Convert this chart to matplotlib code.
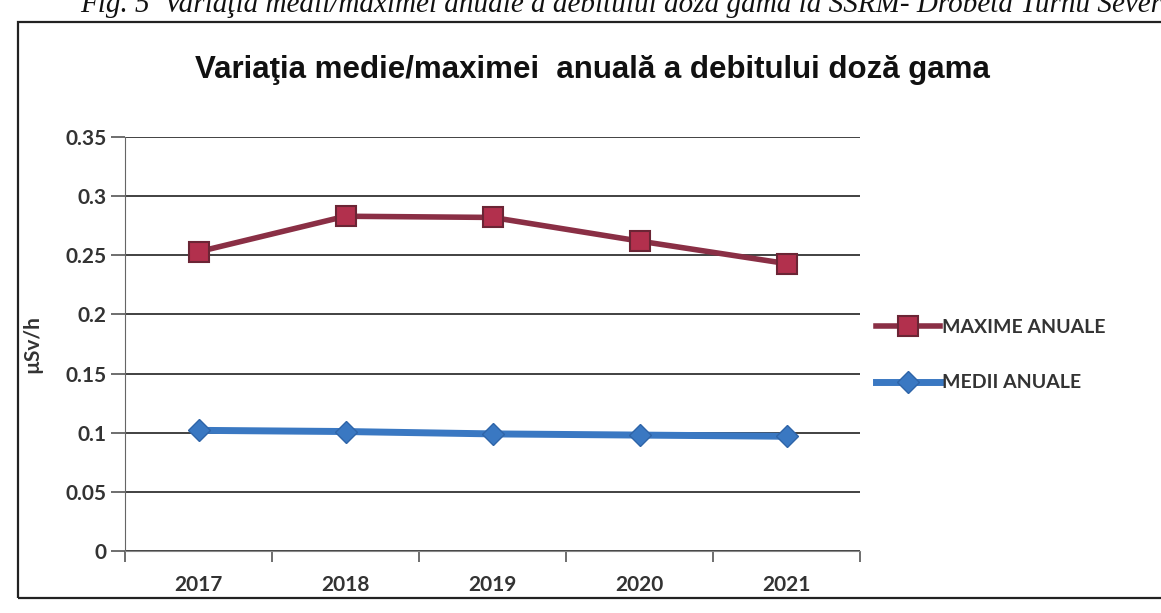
import matplotlib
matplotlib.use('Agg')
import matplotlib.pyplot as plt
from matplotlib.patches import Rectangle

# data
years = ['2017', '2018', '2019', '2020', '2021']
maxime_anuale = [0.253, 0.283, 0.282, 0.262, 0.243]
medii_anuale = [0.102, 0.101, 0.099, 0.098, 0.097]
y_ticks = [0, 0.05, 0.1, 0.15, 0.2, 0.25, 0.3, 0.35]
y_tick_labels = ['0', '0.05', '0.1', '0.15', '0.2', '0.25', '0.3', '0.35']

W, H = 1161, 613
fig = plt.figure(figsize=(W / 100, H / 100), dpi=100)
fig.patch.set_facecolor('white')

# outer chart frame (right edge runs off the page)
fig.patches.append(Rectangle((18 / W, 1 - 598 / H), 1.2, (598 - 22) / H,
                             transform=fig.transFigure, fill=False,
                             edgecolor='#222222', linewidth=1.6))

# caption of the document, cut at the top of the scan
fig.text(1162 / W, 1 - 12 / H,
         'Fig. 5  Variaţia medii/maximei anuale a debitului doză gama la SSRM- Drobeta Turnu Sever',
         ha='right', va='baseline', fontsize=21, style='italic',
         family='Liberation Serif', color='#111111')

ax = fig.add_axes([125 / W, 1 - 551 / H, (860 - 125) / W, (551 - 137) / H])
x = list(range(len(years)))

ax.plot(x, maxime_anuale, color='#8a2f45', linewidth=4, marker='s',
        markersize=15, markerfacecolor='#b2304d', markeredgecolor='#6b2535',
        markeredgewidth=1.5, label='MAXIME ANUALE', zorder=4)
ax.plot(x, medii_anuale, color='#3a78c2', linewidth=5, marker='D',
        markersize=11, markerfacecolor='#3a78c2', markeredgecolor='#2e64a8',
        label='MEDII ANUALE', zorder=4)

ax.set_xlim(-0.5, len(years) - 0.5)
ax.set_ylim(0, 0.35)
ax.set_yticks(y_ticks)
ax.set_yticklabels(y_tick_labels)
ax.set_xticks(x)
ax.set_xticklabels(years)
ax.set_xticks([i - 0.5 for i in range(len(years) + 1)], minor=True)
ax.tick_params(axis='x', which='major', length=0, pad=17)
ax.tick_params(axis='x', which='minor', length=8, width=1.2, color='#555555', direction='out')
ax.tick_params(axis='y', length=10, width=1.2, color='#555555', pad=3)
for lab in ax.get_xticklabels() + ax.get_yticklabels():
    lab.set_fontfamily('Lato')
    lab.set_fontweight('bold')
    lab.set_fontsize(15)
    lab.set_color('#333333')

ax.grid(axis='y', color='#333333', linewidth=1.3)
ax.set_axisbelow(True)
for s in ['top', 'right']:
    ax.spines[s].set_visible(False)
ax.spines['left'].set_color('#666666')
ax.spines['bottom'].set_color('#888888')

ax.set_ylabel('µSv/h', fontsize=15, fontweight='bold', family='Lato',
              color='#333333')
ax.yaxis.set_label_coords(-0.112, 0.5)

fig.text(592 / W, 1 - 70 / H, 'Variaţia medie/maximei  anuală a debitului doză gama',
         ha='center', va='center', fontsize=22.5, fontweight='bold',
         family='Liberation Sans', color='#111111')

fig.legend(loc='center left', bbox_to_anchor=(858 / W, 1 - 355 / H),
           frameon=False, handlelength=3.3, handletextpad=0.1,
           labelspacing=2.0, prop={'family': 'Lato', 'weight': 'bold', 'size': 14})
for t in fig.legends[0].get_texts():
    t.set_color('#333333')

fig.savefig('out.png', dpi=100)
